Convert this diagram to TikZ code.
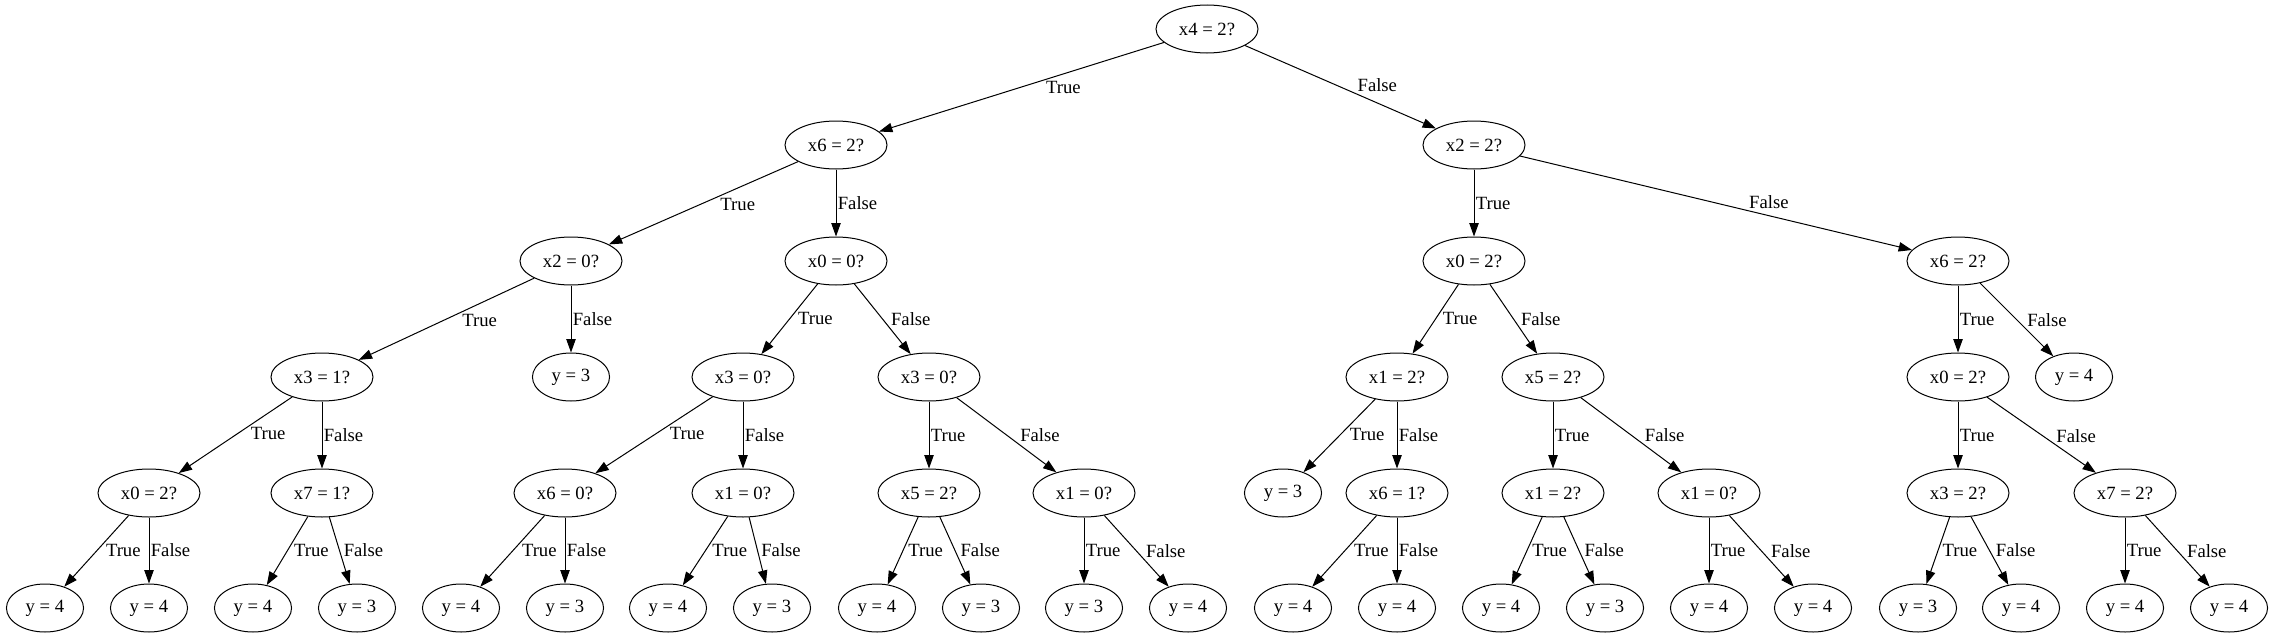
\documentclass[tikz,border=0pt]{standalone}
\usepackage{fontspec}
\setmainfont{Liberation Serif}
\usepackage{tikz}
\usetikzlibrary{arrows.meta}
\usetikzlibrary{shapes.geometric}

\tikzset{
  test/.style={draw, ellipse, line width=0.75pt, minimum height=36pt,
    inner xsep=6pt, inner ysep=0pt, font=\fontsize{14}{16}\selectfont},
  leaf/.style={test},
  arr/.style={-{Triangle[length=10pt,width=7pt]}, line width=0.75pt},
  lbl/.style={inner sep=1pt, font=\fontsize{14}{16}\selectfont},
  dl/.style={lbl, pos=0.38, anchor=north west},
  dv/.style={lbl, pos=0.5, anchor=west},
  dr/.style={lbl, pos=0.62, anchor=south west},
  % flat edges
  fl/.style={dl, pos=0.42},
  fr/.style={dr, pos=0.58}
}

\begin{document}
\begin{tikzpicture}[x=0.75pt, y=-0.75pt]
    \useasboundingbox (0,0) rectangle (2274,639);

    % Racine et premier niveau
    \node[test] (r) at (1207,29) {x4 = 2?};
    \node[test] (rt) at (836,145) {x6 = 2?};
    \node[test] (rf) at (1474,145) {x2 = 2?};

    % Niveau 2
    \node[test] (rtt) at (571,261) {x2 = 0?};
    \node[test] (rtf) at (836,261) {x0 = 0?};
    \node[test] (rft) at (1474,261) {x0 = 2?};
    \node[test] (rff) at (1958,261) {x6 = 2?};

    % Niveau 3
    \node[test] (rttt) at (322,377) {x3 = 1?};
    \node[leaf] (rttf) at (571,377) {y = 3};
    \node[test] (rtft) at (743,377) {x3 = 0?};
    \node[test] (rtff) at (929,377) {x3 = 0?};
    \node[test] (rftt) at (1397,377) {x1 = 2?};
    \node[test] (rftf) at (1553,377) {x5 = 2?};
    \node[test] (rfft) at (1958,377) {x0 = 2?};
    \node[leaf] (rfff) at (2074,377) {y = 4};

    % Niveau 4
    \node[test] (rtttt) at (149,493) {x0 = 2?};
    \node[test] (rtttf) at (322,493) {x7 = 1?};
    \node[test] (rtftt) at (565,493) {x6 = 0?};
    \node[test] (rtftf) at (743,493) {x1 = 0?};
    \node[test] (rtfft) at (929,493) {x5 = 2?};
    \node[test] (rtfff) at (1084,493) {x1 = 0?};
    \node[leaf] (rfttt) at (1283,493) {y = 3};
    \node[test] (rfttf) at (1397,493) {x6 = 1?};
    \node[test] (rftft) at (1553,493) {x1 = 2?};
    \node[test] (rftff) at (1709,493) {x1 = 0?};
    \node[test] (rfftt) at (1958,493) {x3 = 2?};
    \node[test] (rfftf) at (2125,493) {x7 = 2?};

    % Feuilles
    \node[leaf] (l1) at (45,608) {y = 4};
    \node[leaf] (l2) at (149,608) {y = 4};
    \node[leaf] (l3) at (253,608) {y = 4};
    \node[leaf] (l4) at (357,608) {y = 3};
    \node[leaf] (l5) at (461,608) {y = 4};
    \node[leaf] (l6) at (565,608) {y = 3};
    \node[leaf] (l7) at (668,608) {y = 4};
    \node[leaf] (l8) at (772,608) {y = 3};
    \node[leaf] (l9) at (877,608) {y = 4};
    \node[leaf] (l10) at (981,608) {y = 3};
    \node[leaf] (l11) at (1084,608) {y = 3};
    \node[leaf] (l12) at (1188,608) {y = 4};
    \node[leaf] (l13) at (1293,608) {y = 4};
    \node[leaf] (l14) at (1397,608) {y = 4};
    \node[leaf] (l15) at (1501,608) {y = 4};
    \node[leaf] (l16) at (1605,608) {y = 3};
    \node[leaf] (l17) at (1709,608) {y = 4};
    \node[leaf] (l18) at (1813,608) {y = 4};
    \node[leaf] (l19) at (1918,608) {y = 3};
    \node[leaf] (l20) at (2021,608) {y = 4};
    \node[leaf] (l21) at (2125,608) {y = 4};
    \node[leaf] (l22) at (2229,608) {y = 4};

    % Branches
    \draw[arr] (r) -- (rt) node[fl] {True};
    \draw[arr] (r) -- (rf) node[fr] {False};
    \draw[arr] (rt) -- (rtt) node[fl] {True};
    \draw[arr] (rt) -- (rtf) node[dv] {False};
    \draw[arr] (rf) -- (rft) node[dv] {True};
    \draw[arr] (rf) -- (rff) node[fr] {False};

    \draw[arr] (rtt) -- (rttt) node[fl] {True};
    \draw[arr] (rtt) -- (rttf) node[dv] {False};
    \draw[arr] (rtf) -- (rtft) node[dl] {True};
    \draw[arr] (rtf) -- (rtff) node[dr] {False};
    \draw[arr] (rft) -- (rftt) node[dl] {True};
    \draw[arr] (rft) -- (rftf) node[dr] {False};
    \draw[arr] (rff) -- (rfft) node[dv] {True};
    \draw[arr] (rff) -- (rfff) node[dr] {False};

    \draw[arr] (rttt) -- (rtttt) node[dl] {True};
    \draw[arr] (rttt) -- (rtttf) node[dv] {False};
    \draw[arr] (rtft) -- (rtftt) node[dl] {True};
    \draw[arr] (rtft) -- (rtftf) node[dv] {False};
    \draw[arr] (rtff) -- (rtfft) node[dv] {True};
    \draw[arr] (rtff) -- (rtfff) node[dr] {False};
    \draw[arr] (rftt) -- (rfttt) node[dl] {True};
    \draw[arr] (rftt) -- (rfttf) node[dv] {False};
    \draw[arr] (rftf) -- (rftft) node[dv] {True};
    \draw[arr] (rftf) -- (rftff) node[dr] {False};
    \draw[arr] (rfft) -- (rfftt) node[dv] {True};
    \draw[arr] (rfft) -- (rfftf) node[dr] {False};

    \draw[arr] (rtttt) -- (l1) node[dl] {True};
    \draw[arr] (rtttt) -- (l2) node[dv] {False};
    \draw[arr] (rtttf) -- (l3) node[dl] {True};
    \draw[arr] (rtttf) -- (l4) node[dr] {False};
    \draw[arr] (rtftt) -- (l5) node[dl] {True};
    \draw[arr] (rtftt) -- (l6) node[dv] {False};
    \draw[arr] (rtftf) -- (l7) node[dl] {True};
    \draw[arr] (rtftf) -- (l8) node[dr] {False};
    \draw[arr] (rtfft) -- (l9) node[dl] {True};
    \draw[arr] (rtfft) -- (l10) node[dr] {False};
    \draw[arr] (rtfff) -- (l11) node[dv] {True};
    \draw[arr] (rtfff) -- (l12) node[dr] {False};
    \draw[arr] (rfttf) -- (l13) node[dl] {True};
    \draw[arr] (rfttf) -- (l14) node[dv] {False};
    \draw[arr] (rftft) -- (l15) node[dl] {True};
    \draw[arr] (rftft) -- (l16) node[dr] {False};
    \draw[arr] (rftff) -- (l17) node[dv] {True};
    \draw[arr] (rftff) -- (l18) node[dr] {False};
    \draw[arr] (rfftt) -- (l19) node[dl] {True};
    \draw[arr] (rfftt) -- (l20) node[dr] {False};
    \draw[arr] (rfftf) -- (l21) node[dv] {True};
    \draw[arr] (rfftf) -- (l22) node[dr] {False};
\end{tikzpicture}
\end{document}
